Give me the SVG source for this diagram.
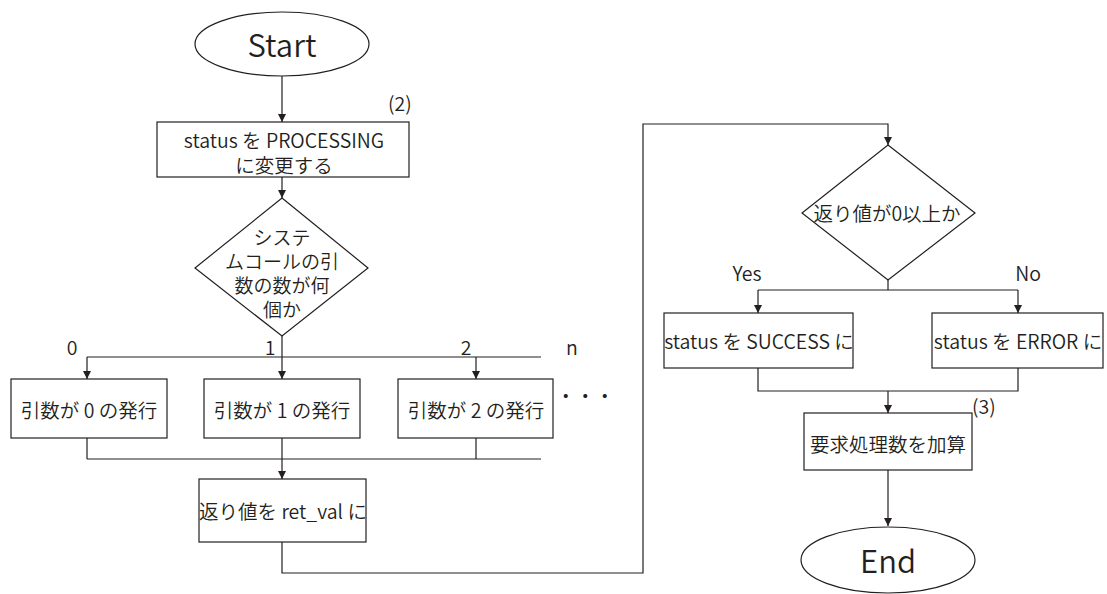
<svg xmlns="http://www.w3.org/2000/svg" width="1107" height="594" viewBox="0 0 1107 594">
<defs>
<marker id="ah" viewBox="0 0 10 10" refX="10" refY="5" markerWidth="8" markerHeight="9" markerUnits="userSpaceOnUse" orient="auto">
<path d="M0,0 L10,5 L0,10 z" fill="#231f20"/>
</marker>
</defs>
<style>
.shape{fill:#fff;stroke:#231f20;stroke-width:1.2}
.conn{fill:none;stroke:#231f20;stroke-width:1.2}
.arr{marker-end:url(#ah)}
text{font-family:"Noto Sans CJK JP","Noto Sans",sans-serif;fill:#231f20;font-size:19.5px;font-weight:350}
.c{text-anchor:middle;dominant-baseline:central}
.big{font-size:31px}
.d{font-size:19px}
</style>
<rect width="1107" height="594" fill="#fff"/>
<g id="connectors">
<path class="conn arr" d="M282,76 V122"/>
<path class="conn arr" d="M282,177 V198"/>
<path class="conn arr" d="M282,336 V379"/>
<path class="conn" d="M87,357 H541"/>
<path class="conn arr" d="M87,357 V379"/>
<path class="conn arr" d="M476,357 V379"/>
<path class="conn" d="M87,438 V459 M476,438 V459 M87,459 H541"/>
<path class="conn arr" d="M282,438 V479"/>
<path class="conn arr" d="M282,542 V573 H643 V124 H888 V145"/>
<path class="conn" d="M888,280 V290 M758,290 H1018"/>
<path class="conn arr" d="M758,290 V313"/>
<path class="conn arr" d="M1018,290 V313"/>
<path class="conn" d="M758,368 V391 H1018 V368"/>
<path class="conn arr" d="M888,391 V413"/>
<path class="conn arr" d="M888,470 V526"/>
</g>
<g id="start">
<ellipse class="shape" cx="282" cy="44" rx="87" ry="32"/>
<text class="c big" x="282" y="43">Start</text>
</g>
<g id="set-processing">
<rect class="shape" x="157" y="122" width="252" height="55"/>
<text class="c" x="284" y="139">status を PROCESSING</text>
<text class="c" x="284" y="164">に変更する</text>
<text x="388" y="111">(2)</text>
</g>
<g id="argc-decision">
<polygon class="shape" points="282,198 368,268 282,336 195,268"/>
<text class="c d" x="282" y="236">システ</text>
<text class="c d" x="282" y="260">ムコールの引</text>
<text class="c d" x="282" y="284">数の数が何</text>
<text class="c d" x="282" y="308">個か</text>
</g>
<g id="branch-labels">
<text class="c" x="72" y="346">0</text>
<text class="c" x="270" y="346">1</text>
<text class="c" x="466" y="346">2</text>
<text class="c" x="572" y="346">n</text>
</g>
<g id="call0">
<rect class="shape" x="11" y="379" width="156" height="59"/>
<text class="c" x="89" y="409">引数が 0 の発行</text>
</g>
<g id="call1">
<rect class="shape" x="204" y="379" width="156" height="59"/>
<text class="c" x="282" y="409">引数が 1 の発行</text>
</g>
<g id="call2">
<rect class="shape" x="398" y="379" width="155" height="59"/>
<text class="c" x="476" y="409">引数が 2 の発行</text>
</g>
<g id="ellipsis">
<text x="556" y="404">・・・</text>
</g>
<g id="ret-val">
<rect class="shape" x="199" y="479" width="167" height="63"/>
<text class="c" x="283" y="510">返り値を ret_val に</text>
</g>
<g id="ret-decision">
<polygon class="shape" points="888,145 975,213 888,280 802,213"/>
<text class="c" x="887" y="212">返り値が0以上か</text>
</g>
<g id="yes-no-labels">
<text class="c" x="747" y="272">Yes</text>
<text class="c" x="1028" y="272">No</text>
</g>
<g id="success">
<rect class="shape" x="664" y="313" width="189" height="55"/>
<text class="c" x="759" y="340">status を SUCCESS に</text>
</g>
<g id="error">
<rect class="shape" x="932" y="313" width="171" height="55"/>
<text class="c" x="1018" y="340">status を ERROR に</text>
</g>
<g id="count">
<rect class="shape" x="804" y="413" width="168" height="57"/>
<text class="c" x="888" y="443">要求処理数を加算</text>
<text x="972" y="414">(3)</text>
</g>
<g id="end">
<ellipse class="shape" cx="888" cy="560" rx="87" ry="33"/>
<text class="c big" x="888" y="559">End</text>
</g>
</svg>
